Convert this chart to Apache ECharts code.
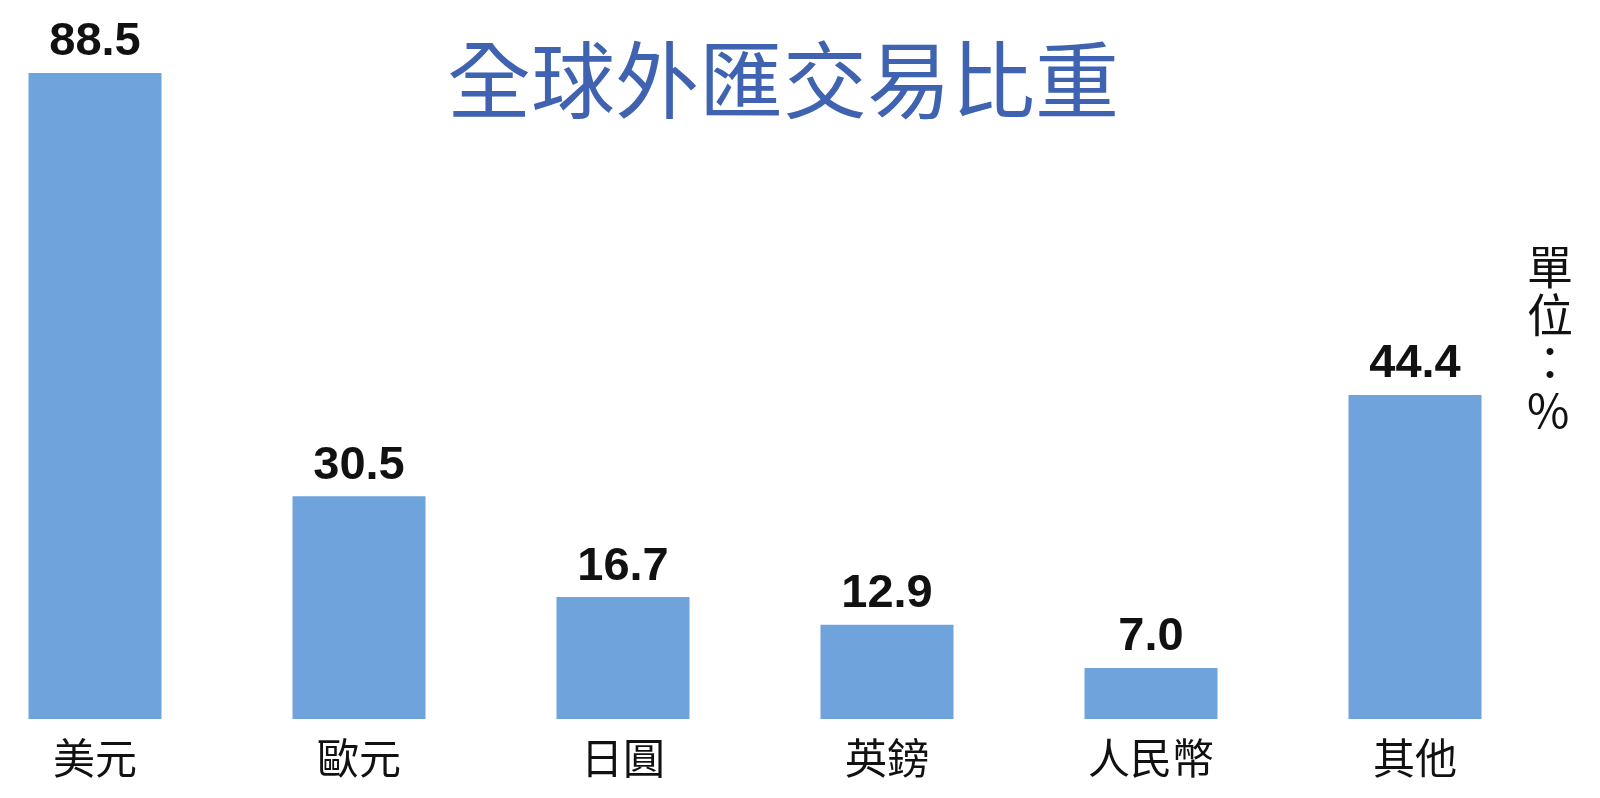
<!DOCTYPE html>
<html>
<head>
<meta charset="utf-8">
<script src="https://cdn.jsdelivr.net/npm/echarts@6/dist/echarts.min.js"></script>
<style>
html,body{margin:0;padding:0;background:#fff;}
#chart{width:1600px;height:798px;}
</style>
</head>
<body>
<div id="chart"></div>
<script>
// 全球外匯交易比重
var currencies = ['美元', '歐元', '日圓', '英鎊', '人民幣', '其他'];
var shares = [88.5, 30.5, 16.7, 12.9, 7.0, 44.4];

var myChart = echarts.init(document.getElementById('chart'));
var option = {
    animation: false,
    backgroundColor: '#fff',
    title: {
        text: '全球外匯交易比重',
        left: 778,
        top: 33,
        textAlign: 'center',
        textStyle: {
            color: '#3f63b0',
            fontSize: 84,
            fontWeight: 'normal',
            fontFamily: 'Noto Sans CJK TC'
        }
    },
    graphic: [{
        type: 'text',
        left: 1527,
        top: 243,
        style: {
            text: '單\n位\n：\n%',
            fontSize: 46,
            lineHeight: 48,
            fill: '#111',
            fontFamily: 'Noto Sans CJK TC',
            align: 'center'
        }
    }],
    grid: {
        left: -37,
        right: 53,
        top: 73,
        bottom: 79,
        outerBoundsMode: 'none'
    },
    xAxis: {
        type: 'category',
        data: currencies,
        axisLine: { show: false },
        axisTick: { show: false },
        axisLabel: {
            margin: 18,
            fontSize: 42,
            color: '#111',
            fontFamily: 'Noto Sans CJK TC'
        }
    },
    yAxis: {
        type: 'value',
        min: 0,
        max: 88.5,
        show: false,
        splitLine: { show: false }
    },
    series: [{
        type: 'bar',
        data: shares,
        barWidth: 133,
        itemStyle: { color: '#6fa3dc' },
        label: {
            show: true,
            position: 'top',
            distance: 7,
            fontSize: 47,
            fontWeight: 'bold',
            color: '#111',
            fontFamily: 'Liberation Sans',
            formatter: function (p) { return p.value.toFixed(1); }
        }
    }]
};
myChart.setOption(option);
</script>
</body>
</html>
